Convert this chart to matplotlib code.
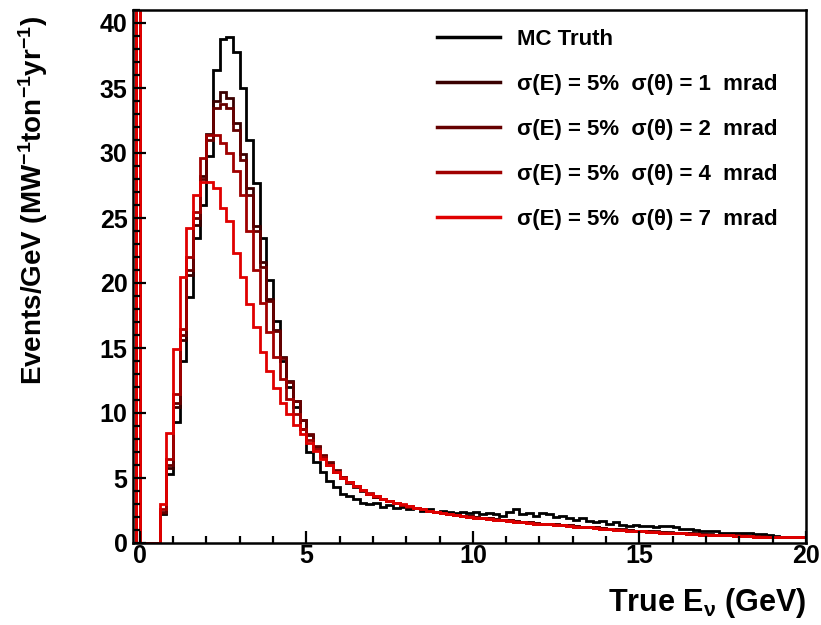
import numpy as np
import matplotlib
matplotlib.use("Agg")
import matplotlib.pyplot as plt
from matplotlib.ticker import MultipleLocator

plt.rcParams['font.family'] = ['Liberation Sans', 'DejaVu Sans']
plt.rcParams['font.weight'] = 'bold'
plt.rcParams['mathtext.fontset'] = 'custom'
plt.rcParams['mathtext.rm'] = 'Liberation Sans:bold'
plt.rcParams['mathtext.it'] = 'Liberation Sans:bold'
plt.rcParams['mathtext.bf'] = 'Liberation Sans:bold'
plt.rcParams['mathtext.default'] = 'rm'

# ---------------- data ----------------
# bin edges: narrow off-scale bin just below 0, then 0.2 GeV bins from 0 to 20 GeV
bin_edges = np.concatenate([[-0.12], np.linspace(0.0, 20.0, 101)])
spike_value = 60.0  # first (off-scale) bin, same for every series

mc_truth = [
    0, 0, 0, 2.2, 5.3, 9.3, 14.0, 18.9, 23.5, 26.0,
    29.8, 36.4, 38.8, 38.9, 37.8, 35.0, 31.0, 27.7, 23.5, 20.2,
    17.1, 14.0, 12.0, 10.5, 8.8, 7.0, 6.2, 5.5, 4.8, 4.3,
    3.8, 3.6, 3.4, 3.1, 3.0, 3.1, 2.8, 2.9, 2.7, 2.8,
    2.6, 2.7, 2.5, 2.6, 2.4, 2.5, 2.4, 2.3, 2.4, 2.3,
    2.4, 2.2, 2.3, 2.2, 2.1, 2.4, 2.6, 2.2, 2.3, 2.1,
    2.3, 2.2, 2.0, 2.1, 1.9, 1.8, 1.9, 1.7, 1.6, 1.7,
    1.5, 1.6, 1.4, 1.3, 1.4, 1.3, 1.3, 1.2, 1.3, 1.3,
    1.2, 1.1, 1.05, 1.0, 0.95, 0.9, 0.9, 0.8, 0.8, 0.75,
    0.75, 0.75, 0.7, 0.7, 0.6, 0.55, 0.5, 0.5, 0.5, 0.5,
]
res_1mrad = [
    0, 0, 0, 2.3, 5.8, 10.5, 15.6, 20.6, 24.5, 28.2,
    31.5, 34.0, 34.7, 34.2, 32.3, 29.9, 27.3, 24.4, 21.6, 18.8,
    16.4, 14.3, 12.5, 10.9, 9.5, 8.3, 7.4, 6.7, 6.1, 5.5,
    5.0, 4.6, 4.3, 4.0, 3.75, 3.55, 3.35, 3.2, 3.05, 2.9,
    2.8, 2.7, 2.6, 2.5, 2.4, 2.3, 2.25, 2.15, 2.1, 2.05,
    2.0, 1.95, 1.9, 1.85, 1.8, 1.75, 1.7, 1.65, 1.6, 1.55,
    1.5, 1.5, 1.45, 1.4, 1.35, 1.3, 1.25, 1.25, 1.2, 1.15,
    1.1, 1.05, 1.05, 1.0, 0.95, 0.95, 0.9, 0.9, 0.85, 0.85,
    0.8, 0.8, 0.75, 0.75, 0.7, 0.7, 0.65, 0.65, 0.6, 0.6,
    0.6, 0.55, 0.55, 0.55, 0.5, 0.5, 0.5, 0.5, 0.45, 0.45,
]
res_2mrad = [
    0, 0, 0, 2.4, 6.0, 10.8, 16.0, 21.0, 25.0, 28.0,
    31.0, 33.5, 33.8, 33.5, 31.8, 29.5, 26.8, 24.0, 21.2, 18.6,
    16.3, 14.2, 12.4, 10.9, 9.5, 8.4, 7.5, 6.8, 6.2, 5.6,
    5.1, 4.7, 4.35, 4.05, 3.8, 3.55, 3.35, 3.2, 3.05, 2.9,
    2.8, 2.7, 2.6, 2.5, 2.4, 2.3, 2.25, 2.15, 2.1, 2.05,
    2.0, 1.95, 1.9, 1.85, 1.8, 1.75, 1.7, 1.65, 1.6, 1.55,
    1.5, 1.5, 1.45, 1.4, 1.35, 1.3, 1.25, 1.2, 1.2, 1.15,
    1.1, 1.05, 1.0, 1.0, 0.95, 0.9, 0.9, 0.85, 0.85, 0.8,
    0.8, 0.75, 0.75, 0.7, 0.7, 0.65, 0.65, 0.6, 0.6, 0.6,
    0.55, 0.55, 0.55, 0.5, 0.5, 0.5, 0.5, 0.45, 0.45, 0.45,
]
res_4mrad = [
    0, 0, 0, 2.6, 6.5, 11.5, 16.5, 22.0, 25.5, 29.6,
    31.4, 31.4, 30.8, 30.0, 28.6, 26.8, 24.0, 21.0, 18.5, 16.2,
    14.3, 12.6, 11.1, 9.9, 8.8, 7.9, 7.2, 6.6, 6.0, 5.5,
    5.1, 4.7, 4.4, 4.1, 3.85, 3.6, 3.4, 3.25, 3.1, 2.95,
    2.85, 2.7, 2.6, 2.5, 2.4, 2.3, 2.2, 2.15, 2.1, 2.0,
    1.95, 1.9, 1.85, 1.8, 1.75, 1.7, 1.65, 1.6, 1.55, 1.5,
    1.45, 1.45, 1.4, 1.35, 1.3, 1.25, 1.2, 1.2, 1.15, 1.1,
    1.05, 1.0, 1.0, 0.95, 0.9, 0.9, 0.85, 0.85, 0.8, 0.8,
    0.75, 0.75, 0.7, 0.7, 0.65, 0.65, 0.6, 0.6, 0.6, 0.55,
    0.55, 0.55, 0.5, 0.5, 0.5, 0.5, 0.45, 0.45, 0.45, 0.45,
]
res_7mrad = [
    0, 0, 0, 3.0, 8.5, 14.9, 20.5, 24.2, 26.8, 27.8,
    27.8, 27.3, 25.8, 24.8, 22.3, 20.5, 18.4, 16.6, 14.7, 13.2,
    11.9, 10.8, 9.9, 9.1, 8.4, 7.7, 7.1, 6.5, 6.0, 5.5,
    5.0, 4.7, 4.4, 4.1, 3.8, 3.6, 3.4, 3.25, 3.1, 3.0,
    2.85, 2.7, 2.6, 2.5, 2.4, 2.3, 2.2, 2.15, 2.1, 2.0,
    1.95, 1.9, 1.85, 1.8, 1.75, 1.7, 1.65, 1.6, 1.55, 1.5,
    1.45, 1.45, 1.4, 1.35, 1.3, 1.25, 1.2, 1.2, 1.15, 1.1,
    1.05, 1.0, 1.0, 0.95, 0.9, 0.9, 0.85, 0.85, 0.8, 0.8,
    0.75, 0.75, 0.7, 0.7, 0.65, 0.65, 0.6, 0.6, 0.6, 0.55,
    0.55, 0.55, 0.5, 0.5, 0.5, 0.5, 0.45, 0.45, 0.45, 0.45,
]

series_labels = [
    "MC Truth",
    "σ(E) = 5%  σ(θ) = 1  mrad",
    "σ(E) = 5%  σ(θ) = 2  mrad",
    "σ(E) = 5%  σ(θ) = 4  mrad",
    "σ(E) = 5%  σ(θ) = 7  mrad",
]
series_values = [mc_truth, res_1mrad, res_2mrad, res_4mrad, res_7mrad]
series_colors = ["#000000", "#3a0000", "#660000", "#a00000", "#e00000"]

x_label = r"True E$_{\nu}$ (GeV)"
y_label = r"Events/GeV (MW$^{-1}$ton$^{-1}$yr$^{-1}$)"

# ---------------- plot ----------------
fig = plt.figure(figsize=(8.21, 6.25), dpi=100)
ax = fig.add_axes([133/821, 1 - 543/625, (806 - 133)/821, (543 - 10)/625])

for vals, col, lab in zip(series_values, series_colors, series_labels):
    v = np.concatenate([[spike_value], np.asarray(vals, dtype=float)])
    ax.stairs(v, bin_edges, baseline=0, color=col, linewidth=2.0, label=lab)

ax.set_xlim(-0.2, 20)
ax.set_ylim(0, 41)

ax.xaxis.set_major_locator(MultipleLocator(5))
ax.xaxis.set_minor_locator(MultipleLocator(1))
ax.yaxis.set_major_locator(MultipleLocator(5))
ax.yaxis.set_minor_locator(MultipleLocator(1))
ax.tick_params(which='both', direction='in', top=False, right=False,
               width=1.6, labelsize=18)
ax.tick_params(which='major', length=9)
ax.tick_params(axis='x', which='major', pad=1)
ax.tick_params(axis='y', which='major', pad=4)
ax.tick_params(which='minor', length=5)
for lab in ax.get_xticklabels() + ax.get_yticklabels():
    lab.set_fontweight('bold')
for sp in ax.spines.values():
    sp.set_linewidth(1.8)

ax.set_xlabel(x_label, fontsize=22, fontweight='bold', loc='right', labelpad=13)
ax.set_ylabel(y_label, fontsize=20, fontweight='bold', loc='top')
ax.yaxis.set_label_coords(-0.123, 0.99)

leg = ax.legend(loc='upper left', bbox_to_anchor=(437/821, 1 - 29/625),
                bbox_transform=fig.transFigure, frameon=False,
                fontsize=16, handlelength=2.85, handletextpad=0.77,
                labelspacing=1.08, borderaxespad=0, borderpad=0)
for t in leg.get_texts():
    t.set_fontweight('bold')
for h in leg.get_lines():
    h.set_linewidth(2.5)

fig.savefig("out.png", dpi=100)
